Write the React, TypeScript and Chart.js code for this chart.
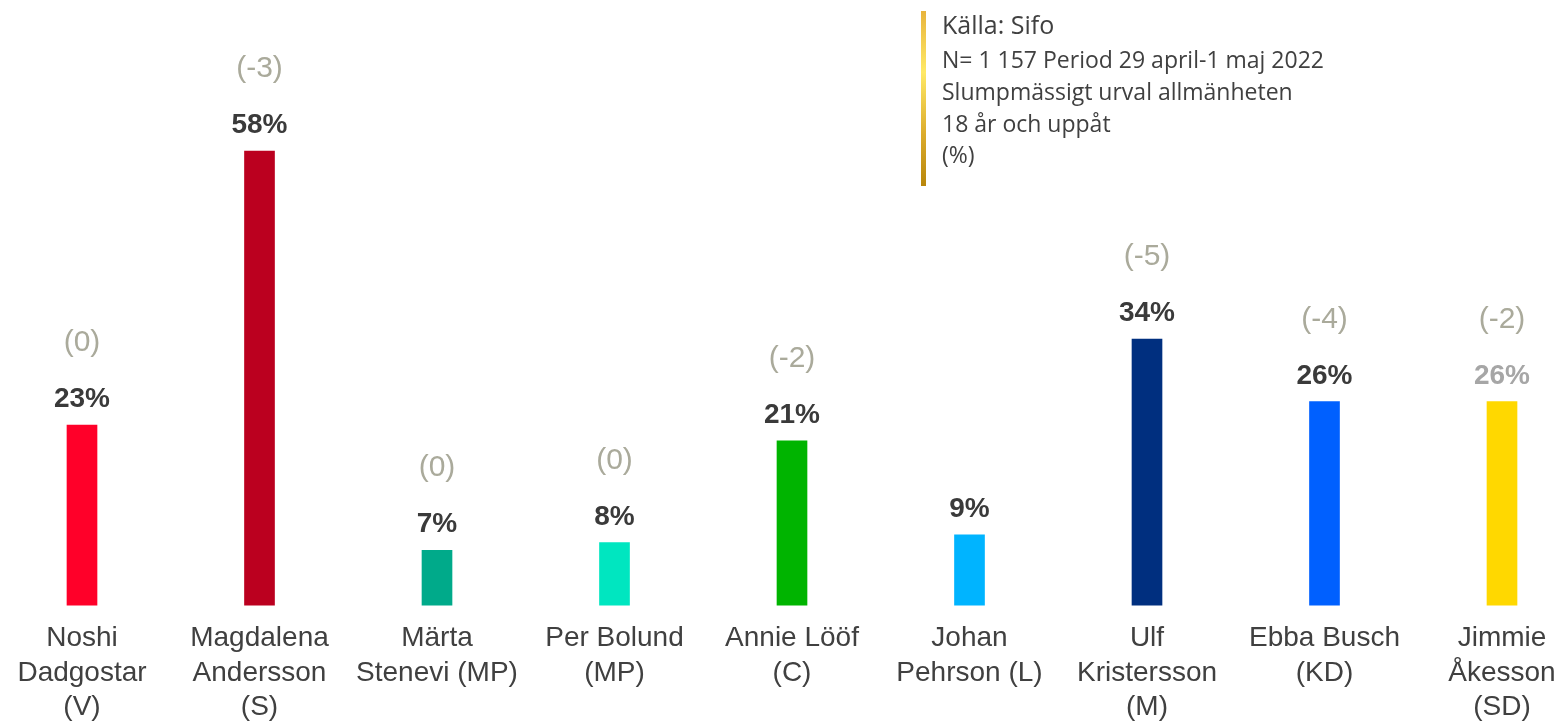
import React, { useEffect, useRef } from "react";
import { Chart, registerables } from "chart.js";

Chart.register(...registerables);

const categories: string[][] = [
  ["Noshi", "Dadgostar", "(V)"],
  ["Magdalena", "Andersson", "(S)"],
  ["Märta", "Stenevi (MP)"],
  ["Per Bolund", "(MP)"],
  ["Annie Lööf", "(C)"],
  ["Johan", "Pehrson (L)"],
  ["Ulf", "Kristersson", "(M)"],
  ["Ebba Busch", "(KD)"],
  ["Jimmie", "Åkesson", "(SD)"],
];
const values: number[] = [23, 58, 7, 8, 21, 9, 34, 26, 26];
const changes: (number | null)[] = [0, -3, 0, 0, -2, null, -5, -4, -2];
const barColors: string[] = [
  "#ff0029",
  "#bb001f",
  "#00aa8a",
  "#00e6c0",
  "#00b400",
  "#00b4ff",
  "#002f7f",
  "#0060ff",
  "#ffd800",
];
const valueLabelColors: string[] = [
  "#3a3a3a",
  "#3a3a3a",
  "#3a3a3a",
  "#3a3a3a",
  "#3a3a3a",
  "#3a3a3a",
  "#3a3a3a",
  "#3a3a3a",
  "#a6a6a6",
];
const sourceTitle = "Källa: Sifo";
const sourceLines: string[] = [
  "N= 1 157 Period 29 april-1 maj 2022",
  "Slumpmässigt urval allmänheten",
  "18 år och uppåt",
  "(%)",
];

const FONT = '"Liberation Sans", Arial, sans-serif';
const CHANGE_COLOR = "#aaaa9b";

const labelPlugin = {
  id: "valueLabels",
  afterDatasetsDraw(chart: any) {
    const ctx = chart.ctx;
    const meta = chart.getDatasetMeta(0);
    ctx.save();
    ctx.textAlign = "center";
    ctx.textBaseline = "alphabetic";
    meta.data.forEach((bar: any, i: number) => {
      const x = bar.x;
      const vb = bar.y - 18;
      ctx.font = `bold 28px ${FONT}`;
      ctx.fillStyle = valueLabelColors[i];
      ctx.fillText(`${values[i]}%`, x, vb);
      const c = changes[i];
      if (c !== null && c !== undefined) {
        ctx.font = `30px ${FONT}`;
        ctx.fillStyle = CHANGE_COLOR;
        ctx.fillText(`(${c})`, x, vb - 56);
      }
    });
    ctx.restore();
  },
};

export default function App() {
  const canvasRef = useRef<HTMLCanvasElement | null>(null);

  useEffect(() => {
    if (!canvasRef.current) return;
    const chart = new Chart(canvasRef.current, {
      type: "bar",
      data: {
        labels: categories,
        datasets: [
          {
            data: values,
            backgroundColor: barColors,
            borderWidth: 0,
            barThickness: 30,
            clip: false as any,
          },
        ],
      },
      options: {
        responsive: false,
        animation: false,
        layout: { padding: { top: 0, left: 82, right: 60, bottom: -18.5 } },
        plugins: {
          legend: { display: false },
          tooltip: { enabled: false },
        },
        scales: {
          x: {
            offset: false,
            grid: { display: false, drawTicks: false },
            border: { display: false },
            afterFit: (scale: any) => {
              scale.paddingLeft = 0;
              scale.paddingRight = 0;
            },
            ticks: {
              padding: 16,
              color: "#404040",
              maxRotation: 0,
              autoSkip: false,
              font: { family: FONT, size: 28, lineHeight: 1.23 },
            },
          },
          y: {
            display: false,
            min: 0,
            max: 77.3,
            grid: { display: false },
          },
        },
      },
      plugins: [labelPlugin],
    });
    return () => chart.destroy();
  }, []);

  const lineStyle = (size: number, baseline: number): React.CSSProperties => ({
    position: "absolute",
    left: 942,
    top: baseline - 0.888 * size,
    fontFamily: '"Open Sans", sans-serif',
    fontSize: size,
    lineHeight: `${size}px`,
    color: "#404040",
    whiteSpace: "nowrap",
  });

  const baselines = [68, 100, 132, 163];

  return (
    <div
      style={{
        position: "fixed",
        left: 0,
        top: 0,
        width: 1562,
        height: 722,
        background: "#ffffff",
        overflow: "hidden",
      }}
    >
      <canvas
        ref={canvasRef}
        width={1562}
        height={722}
        style={{ display: "block", width: 1562, height: 722 }}
      />
      <div
        style={{
          position: "absolute",
          left: 921,
          top: 11,
          width: 5,
          height: 175,
          background:
            "linear-gradient(to bottom, #e8b43c 0%, #ffe966 35%, #dcac2c 70%, #b8860b 100%)",
        }}
      />
      <div style={lineStyle(25, 34)}>{sourceTitle}</div>
      {sourceLines.map((t, i) => (
        <div key={i} style={lineStyle(23, baselines[i])}>
          {t}
        </div>
      ))}
    </div>
  );
}
